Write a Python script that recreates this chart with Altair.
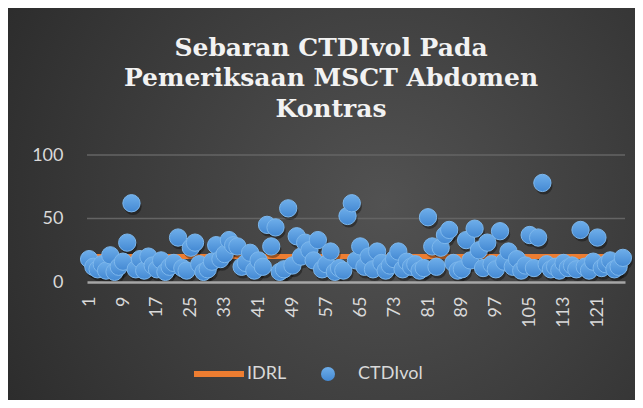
import altair as alt
import pandas as pd

# ---- data ----
categories = list(range(1, 128))
ctdivol = [
    18, 12, 10, 14, 9, 21, 8, 12, 16, 31,
    62, 10, 18, 9, 20, 13, 10, 17, 8, 12,
    15, 35, 11, 9, 27, 31, 14, 8, 10, 16,
    29, 18, 22, 33, 29, 28, 12, 15, 23, 9,
    17, 12, 45, 28, 43, 8, 10, 58, 13, 36,
    20, 31, 25, 17, 33, 10, 14, 24, 8, 11,
    9, 52, 62, 17, 28, 12, 20, 10, 24, 15,
    9, 13, 18, 24, 10, 16, 12, 14, 9, 11,
    51, 28, 12, 27, 37, 41, 15, 9, 10, 33,
    17, 42, 25, 11, 31, 14, 10, 40, 16, 24,
    12, 18, 9, 13, 37, 11, 35, 78, 14, 10,
    12, 9, 15, 11, 13, 10, 41, 12, 9, 16,
    35, 11, 14, 17, 10, 12, 19,
]
idrl = [20] * len(categories)
x_tick_labels = list(range(1, 122, 8))
y_ticks = [0, 50, 100]
series_names = ["IDRL", "CTDIvol"]
title_lines = ["Sebaran CTDIvol Pada", "Pemeriksaan MSCT Abdomen", "Kontras"]

df = pd.DataFrame({
    "no": categories,
    "CTDIvol": ctdivol,
    "IDRL": idrl,
    "s1": series_names[0],
    "s2": series_names[1],
})
grid_df = pd.DataFrame({"v": y_ticks[1:]})

W, H = 538, 127
PL, PT, PR, PB = 79, 147, 10, 118
FONT = "Lato"
TXT = "#d9d9d9"

x_enc = alt.X(
    "no:Q",
    scale=alt.Scale(domain=[0.5, len(categories) + 0.5], nice=False, zero=False),
    axis=alt.Axis(
        values=x_tick_labels, title=None, grid=False, ticks=False,
        labelAngle=270, labelPadding=14, labelOverlap=False, labelFlush=False,
        labelFont=FONT, labelFontSize=18, labelColor=TXT,
        domainColor="#a6a6a6", domainWidth=2.5, zindex=1,
    ),
)
y_scale = alt.Scale(domain=[0, 100], nice=False)
y_axis = alt.Axis(
    values=y_ticks, title=None, grid=False,
    domain=False, ticks=False, tickSize=0, labelPadding=24,
    labelFont=FONT, labelFontSize=18, labelColor=TXT, zindex=1,
)

bg = alt.Chart(alt.Data(values=[{"a": 1}])).mark_rect(
    color={
        "gradient": "radial",
        "x1": 0.6, "y1": 0.5, "r1": 0.0,
        "x2": 0.6, "y2": 0.5, "r2": 0.8,
        "stops": [
            {"offset": 0, "color": "#525252"},
            {"offset": 1, "color": "#262626"},
        ],
    }
).encode(
    x=alt.value(-PL), x2=alt.value(W + PR),
    y=alt.value(-PT), y2=alt.value(H + PB),
)

title = alt.Chart(alt.Data(values=[{"a": 1}])).mark_text(
    text=title_lines, font="DejaVu Serif", fontSize=25, fontWeight="bold",
    color="#f2f2f2", lineHeight=30.3, align="center", baseline="alphabetic",
).encode(x=alt.value(244), y=alt.value(-99))

grid = alt.Chart(grid_df).mark_rule(color="#646464", strokeWidth=1.3).encode(
    y=alt.Y("v:Q", scale=y_scale, axis=y_axis),
)

base = alt.Chart(df)

line = base.mark_line(strokeWidth=5, strokeCap="round").encode(
    x=x_enc,
    y=alt.Y("IDRL:Q", scale=y_scale, axis=y_axis),
    stroke=alt.Stroke(
        "s1:N",
        scale=alt.Scale(domain=[series_names[0]], range=["#ED7D31"]),
        legend=alt.Legend(
            orient="none", legendX=104, legendY=191, title=None,
            symbolType="stroke", symbolStrokeWidth=6, symbolSize=2500,
            labelFont=FONT, labelFontSize=18, labelColor=TXT, labelOffset=0,
            zindex=1,
        ),
    ),
)

shadow = base.mark_circle(size=300, color="#000000", opacity=0.35, xOffset=1.5, yOffset=3).encode(
    x=x_enc,
    y=alt.Y("CTDIvol:Q", scale=y_scale, axis=y_axis),
)

pts = base.mark_point(
    filled=True, size=300, opacity=1,
    fill={
        "gradient": "linear", "x1": 0, "y1": 0, "x2": 0, "y2": 1,
        "stops": [
            {"offset": 0, "color": "#6eaeea"},
            {"offset": 1, "color": "#4489d3"},
        ],
    },
    stroke="#7db7ec", strokeWidth=1,
).encode(
    x=x_enc,
    y=alt.Y("CTDIvol:Q", scale=y_scale, axis=y_axis),
    shape=alt.Shape(
        "s2:N",
        scale=alt.Scale(domain=[series_names[1]], range=["circle"]),
        legend=alt.Legend(
            orient="none", legendX=232, legendY=210, title=None,
            symbolSize=196, symbolFillColor="#5b9bd5", symbolStrokeWidth=0,
            labelFont=FONT, labelFontSize=18, labelColor=TXT, labelOffset=21,
            zindex=1,
        ),
    ),
)

chart = alt.layer(bg, title, grid, line, shadow, pts).properties(
    width=W, height=H,
    autosize=alt.AutoSizeParams(type="none"),
    padding={"left": PL, "top": PT, "right": PR, "bottom": PB},
).configure(background="#3a3a3a").configure_view(strokeWidth=0)

chart.save("out.html", embed_options={"renderer": "svg", "actions": False})
